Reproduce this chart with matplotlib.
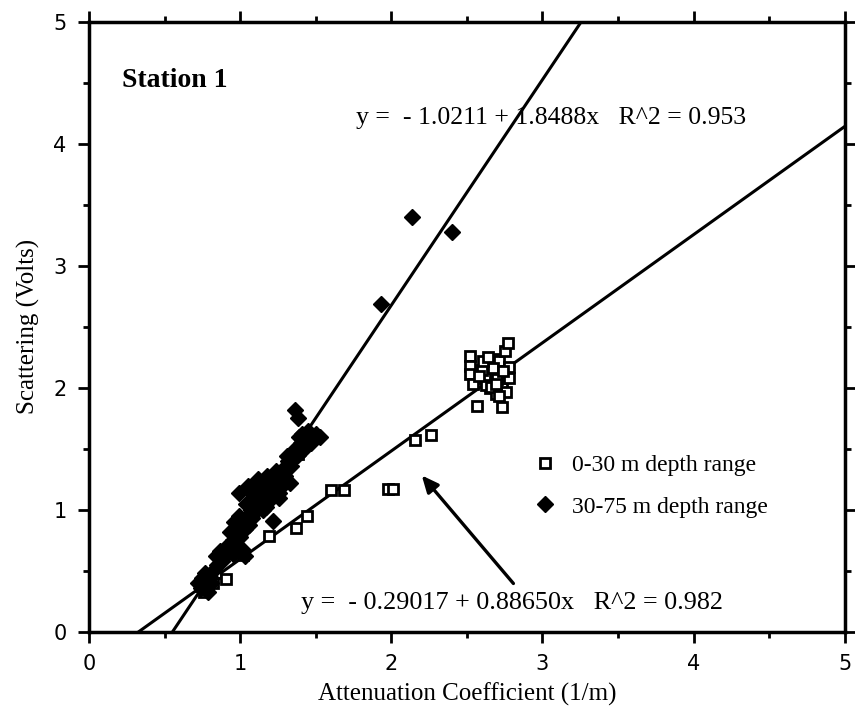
import numpy as np
import matplotlib.pyplot as plt
from matplotlib.ticker import MultipleLocator

# 0-30 m samples (open squares)
shallow_x = [0.74, 0.77, 0.80, 0.79, 0.84, 0.91, 0.76, 0.82, 1.02, 1.19, 1.37, 1.44, 1.38,
             1.60, 1.69, 1.98, 2.01, 2.16, 2.26,
             2.52, 2.52, 2.52, 2.54, 2.57, 2.64, 2.66, 2.68, 2.70, 2.72,
             2.65, 2.69, 2.73, 2.67, 2.71, 2.62, 2.73, 2.75, 2.77, 2.78, 2.78, 2.76,
             2.60, 2.63, 2.67, 2.70, 2.74, 2.61, 2.66, 2.71, 2.58, 2.64, 2.69]
shallow_y = [0.38, 0.45, 0.42, 0.36, 0.48, 0.43, 0.33, 0.40, 0.63, 0.79, 0.85, 0.95, 1.46,
             1.16, 1.16, 1.17, 1.17, 1.57, 1.61,
             2.26, 2.18, 2.11, 2.03, 1.85, 2.20, 2.12, 2.05, 2.18, 2.10,
             2.00, 1.95, 2.00, 2.24, 2.22, 2.08, 1.84, 2.30, 2.37, 2.17, 2.08, 1.97,
             2.15, 2.02, 2.16, 2.07, 2.14, 2.22, 2.01, 1.93, 2.10, 2.25, 2.03]

# 30-75 m samples (filled diamonds)
deep_x = [0.74, 0.76, 0.78, 0.80, 0.77, 0.82, 0.75, 0.79, 0.85, 0.88, 0.90, 0.92,
          0.94, 0.95, 0.97, 0.98, 1.00, 1.00, 1.02, 1.03, 1.05, 1.06, 1.07,
          1.08, 1.10, 1.10, 1.12, 1.13, 1.15, 1.16, 1.18, 1.18, 1.20, 1.22,
          1.23, 1.25, 1.27, 1.28, 1.30, 1.30, 1.32, 1.34, 1.36, 1.38, 1.40,
          1.41, 1.43, 1.45, 1.36, 1.38, 1.50, 1.53, 0.99, 1.22, 1.05, 1.12,
          1.18, 1.03, 1.01, 0.96, 1.26, 1.33, 1.47, 0.72, 0.81, 0.84, 0.87,
          0.91, 0.93, 0.99, 1.04, 1.09, 1.14, 1.17, 1.21, 1.24, 1.29, 1.35,
          1.39, 1.42, 1.46, 1.08, 1.15, 1.26, 1.31, 0.95, 1.93, 2.14, 2.40]
deep_y = [0.36, 0.42, 0.38, 0.45, 0.48, 0.50, 0.44, 0.33, 0.55, 0.58, 0.62, 0.70,
          0.66, 0.75, 0.72, 0.80, 0.85, 0.78, 0.90, 0.84, 0.95, 0.88, 1.00,
          0.93, 1.05, 0.98, 1.10, 1.02, 1.15, 1.08, 1.20, 1.12, 1.18, 1.26,
          1.15, 1.22, 1.30, 1.20, 1.35, 1.28, 1.40, 1.36, 1.50, 1.45, 1.55,
          1.62, 1.58, 1.65, 1.82, 1.75, 1.62, 1.60, 1.14, 0.91, 1.20, 1.25,
          1.28, 0.62, 0.68, 0.90, 1.10, 1.22, 1.55, 0.40, 0.40, 0.62, 0.66,
          0.70, 0.82, 0.95, 1.05, 1.12, 1.20, 1.02, 1.10, 1.32, 1.25, 1.42,
          1.60, 1.50, 1.60, 1.15, 1.00, 1.14, 1.44, 0.64, 2.69, 3.40, 3.28]

# linear fits
deep_fit = (-1.0211, 1.8488)
shallow_fit = (-0.29017, 0.88650)

plt.rcParams['font.family'] = 'Liberation Serif'

fig = plt.figure(figsize=(8.55, 7.12), dpi=100)
ax = fig.add_axes([0.104, 0.1124, 0.884, 0.857])

for b0, b1 in (deep_fit, shallow_fit):
    x0 = -b0 / b1
    x1 = min(5.0, (5.0 - b0) / b1)
    xs = np.array([x0, x1])
    ax.plot(xs, b0 + b1 * xs, color='black', lw=2.2, zorder=2)

ax.plot(shallow_x, shallow_y, 's', ms=7.5, mfc='white', mec='black', mew=2,
        ls='none', label='0-30 m depth range', zorder=3)
ax.plot(deep_x, deep_y, 'D', ms=8.5, color='black', ls='none',
        label='30-75 m depth range', zorder=4)

ax.set_xlim(0, 5)
ax.set_ylim(0, 5)
ax.xaxis.set_major_locator(MultipleLocator(1))
ax.yaxis.set_major_locator(MultipleLocator(1))
ax.xaxis.set_minor_locator(MultipleLocator(0.5))
ax.yaxis.set_minor_locator(MultipleLocator(0.5))
ax.tick_params(which='both', direction='out', top=True, right=True, width=2)
ax.tick_params(which='major', length=8, labelsize=15, pad=8)
ax.tick_params(which='minor', length=4)
for lab in ax.get_xticklabels() + ax.get_yticklabels():
    lab.set_family('DejaVu Sans')
for s in ax.spines.values():
    s.set_linewidth(2.5)

ax.set_xlabel('Attenuation Coefficient (1/m)', fontsize=18, labelpad=6)
ax.set_ylabel('Scattering (Volts)', fontsize=18, labelpad=10)

ax.text(0.22, 4.52, 'Station 1', fontsize=20, fontweight='bold', va='center')
ax.text(1.77, 4.21, 'y =  - 1.0211 + 1.8488x   R^2 = 0.953', fontsize=18.5, va='center')
ax.text(1.40, 0.24, 'y =  - 0.29017 + 0.88650x   R^2 = 0.982', fontsize=18.8, va='center')

ax.annotate('', xy=(2.19, 1.30), xytext=(2.82, 0.38),
            arrowprops=dict(arrowstyle='-|>,head_length=1.0,head_width=0.45',
                            color='black', lw=2.4))

ax.legend(loc='upper left', bbox_to_anchor=(0.557, 0.31), frameon=False,
          fontsize=17, labelspacing=0.85, handletextpad=0.15, borderpad=0)

fig.savefig('out.png', dpi=100)
